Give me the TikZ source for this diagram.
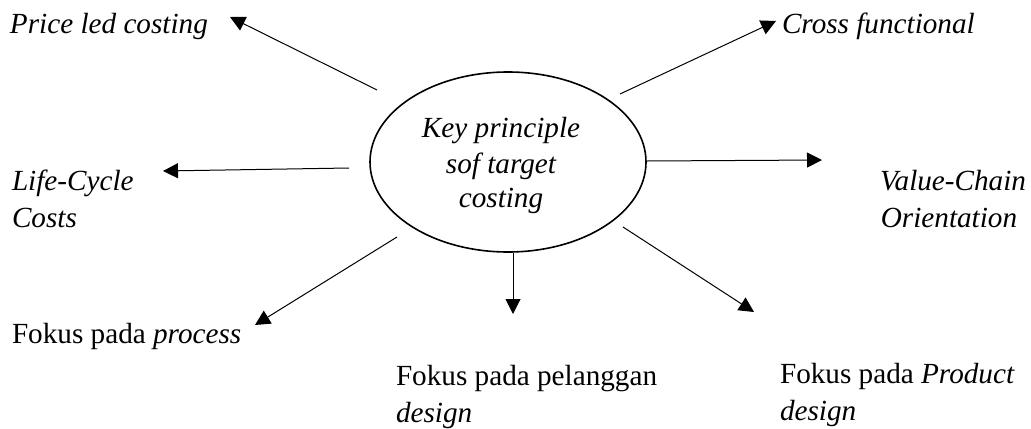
\documentclass[tikz,border=0pt]{standalone}
\usepackage{fontspec}
\setmainfont{Liberation Serif}
\usetikzlibrary{arrows.meta,shapes.geometric}
\tikzset{
  lbl/.style={inner sep=0pt, outer sep=0pt, font=\fontsize{14.6}{18.5}\selectfont},
  arr/.style={line width=0.5pt, -{Triangle[length=7.5pt,width=7.5pt]}},
  hub/.style={draw, ellipse, line width=0.8pt, minimum width=138pt, minimum height=90pt, inner sep=0pt}
}
\begin{document}
\begin{tikzpicture}[x=0.5pt,y=-0.5pt]
\useasboundingbox (0,0) rectangle (1031,428);
% central ellipse
\node[hub] (key) at (508,162) {};
\node[lbl, anchor=base] (k1) at (501,137) {\itshape Key principle};
\node[lbl, anchor=base] (k2) at (501,173) {\itshape sof target};
\node[lbl, anchor=base] (k3) at (501,207) {\itshape costing};
% labels
\node[lbl, anchor=base west] (price) at (10,33) {\itshape Price led costing};
\node[lbl, anchor=base west] (cross) at (782,33) {\itshape Cross functional};
\node[lbl, anchor=base west] (life1) at (12,190) {\itshape Life-Cycle};
\node[lbl, anchor=base west] (life2) at (12,227) {\itshape Costs};
\node[lbl, anchor=base] (val1) at (953,190) {\itshape Value-Chain};
\node[lbl, anchor=base] (val2) at (949,227) {\itshape Orientation};
\node[lbl, anchor=base west] (proc) at (12,343) {Fokus pada \itshape process};
\node[lbl, anchor=base west] (pel1) at (396,385) {Fokus pada pelanggan};
\node[lbl, anchor=base west] (pel2) at (396,422) {\itshape design};
\node[lbl, anchor=base west] (prod1) at (780,383) {Fokus pada \itshape Product};
\node[lbl, anchor=base west] (prod2) at (780,420) {\itshape design};
% connector ends
\coordinate (s1) at (377,90);  \coordinate (t1) at (230,17);
\coordinate (s2) at (620,94);  \coordinate (t2) at (776,21);
\coordinate (s3) at (349,168); \coordinate (t3) at (163,171);
\coordinate (s4) at (647,161); \coordinate (t4) at (822,160);
\coordinate (s5) at (397,237); \coordinate (t5) at (255,325);
\coordinate (s6) at (513,253); \coordinate (t6) at (513,314);
\coordinate (s7) at (623,227); \coordinate (t7) at (754,312);
\draw[arr] (s1) -- (t1);
\draw[arr] (s2) -- (t2);
\draw[arr] (s3) -- (t3);
\draw[arr] (s4) -- (t4);
\draw[arr] (s5) -- (t5);
\draw[arr] (s6) -- (t6);
\draw[arr] (s7) -- (t7);
\end{tikzpicture}
\end{document}
